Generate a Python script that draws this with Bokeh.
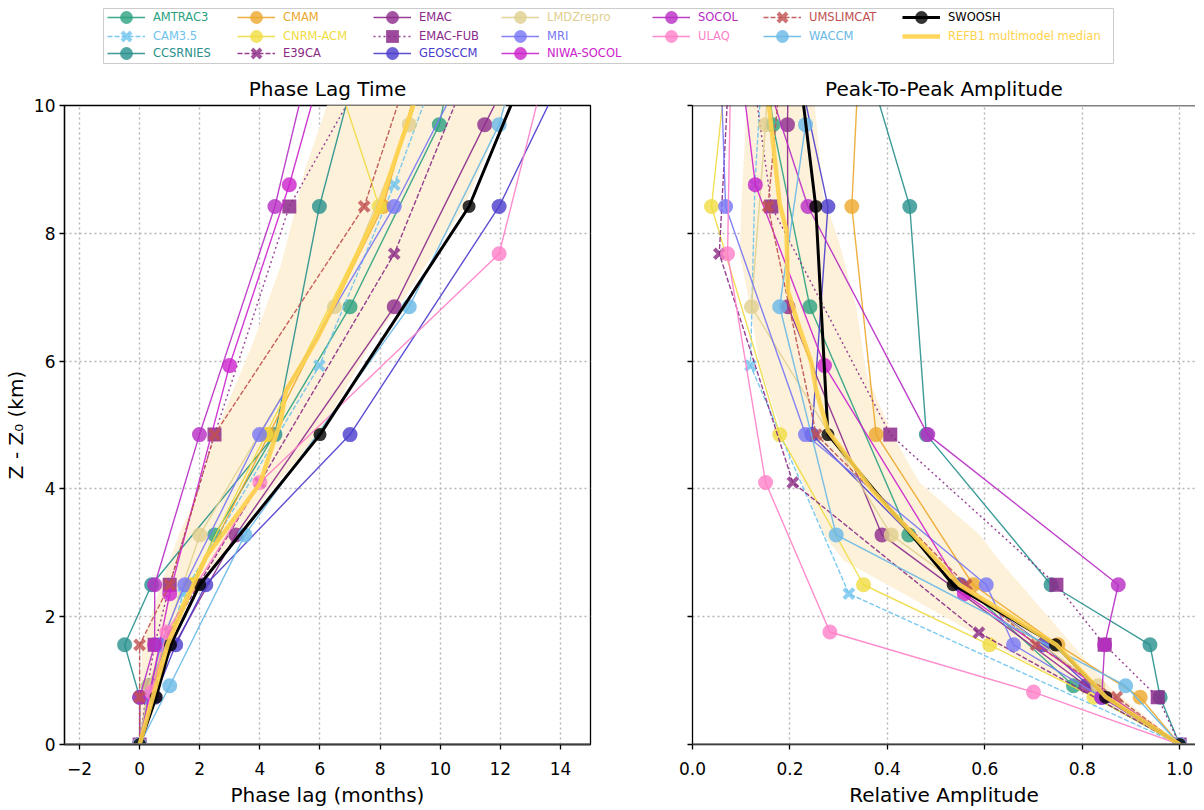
from bokeh.plotting import figure
from bokeh.models import Range1d, Legend, LegendItem, FixedTicker, PrintfTickFormatter, Span
from bokeh.layouts import column, row
from bokeh.embed import file_html
from bokeh.resources import INLINE

FONT = "DejaVu Sans"

# ---------------- data ----------------
# model vertical levels, Z - Z0 in km
Z_LEV_A = [0.0, 2.36, 5.93, 8.76, 11.5]
Z_LEV_B = [0.0, 0.74, 1.56, 2.50, 4.85, 8.42, 11.27]
Z_LEV_C = [0.0, 0.92, 3.28, 6.85, 9.70, 12.5]
Z_LEV_D = [0.0, 0.82, 1.76, 4.10, 7.68, 11.3]
Z_LEV_E = [0.0, 1.75, 4.10, 7.68, 11.3]

AMTRAC3_z = Z_LEV_C
AMTRAC3_lag = [0, 0.3, 2.5, 7.0, 9.97, 11.2]
AMTRAC3_amp = [1, 0.782, 0.444, 0.241, 0.165, 0.13]

CAM35_z = Z_LEV_A
CAM35_lag = [0, 1.45, 5.98, 8.47, 10.6]
CAM35_amp = [1, 0.321, 0.119, 0.128, 0.15]

CCSRNIES_z = Z_LEV_B
CCSRNIES_lag = [0, 0.0, -0.5, 0.4, 4.5, 5.98, 7.58]
CCSRNIES_amp = [1, 0.96, 0.939, 0.736, 0.48, 0.446, 0.335]

CMAM_z = Z_LEV_B
CMAM_lag = [0, 0.3, 0.9, 1.8, 4.3, 8.1, 9.8]
CMAM_amp = [1, 0.919, 0.75, 0.576, 0.377, 0.327, 0.345]

CNRM_z = Z_LEV_B
CNRM_lag = [0, 0.3, 0.8, 1.7, 4.2, 7.97, 5.98]
CNRM_amp = [1, 0.824, 0.61, 0.351, 0.179, 0.039, 0.079]

E39CA_z = Z_LEV_E
E39CA_lag = [0, 1.0, 4.0, 8.47, 11.6]
E39CA_amp = [1, 0.588, 0.206, 0.055, 0.08]

EMAC_z = Z_LEV_C
EMAC_lag = [0, 0.4, 3.2, 8.47, 11.48, 14.5]
EMAC_amp = [1, 0.808, 0.389, 0.196, 0.195, 0.2]

EMACFUB_z = Z_LEV_B
EMACFUB_lag = [0, 0.2, 0.5, 1.0, 2.49, 4.98, 8.4]
EMACFUB_amp = [1, 0.955, 0.846, 0.747, 0.406, 0.162, 0.11]

GEOSCCM_z = Z_LEV_B
GEOSCCM_lag = [0, 0.5, 1.2, 2.2, 7.0, 11.96, 14.9]
GEOSCCM_amp = [1, 0.84, 0.72, 0.55, 0.245, 0.278, 0.198]

LMDZ_z = Z_LEV_C
LMDZ_lag = [0, 0.3, 2.0, 6.48, 8.97, 10.5]
LMDZ_amp = [1, 0.832, 0.408, 0.121, 0.150, 0.17]

MRI_z = Z_LEV_B
MRI_lag = [0, 0.3, 0.7, 1.5, 3.99, 8.47, 11.6]
MRI_amp = [1, 0.84, 0.659, 0.603, 0.232, 0.068, 0.055]

NIWA_z = Z_LEV_A
NIWA_lag = [0, 1.0, 2.99, 4.98, 6.6]
NIWA_amp = [1, 0.558, 0.271, 0.129, 0.085]

SOCOL_z = Z_LEV_B
SOCOL_lag = [0, 0.0, 0.5, 0.5, 1.99, 4.5, 5.95]
SOCOL_amp = [1, 0.84, 0.846, 0.874, 0.483, 0.237, 0.115]

ULAQ_z = Z_LEV_D
ULAQ_lag = [0, 0.4, 0.9, 4.0, 11.96, 13.9]
ULAQ_amp = [1, 0.70, 0.282, 0.15, 0.072, 0.08]

UMSLIMCAT_z = Z_LEV_B
UMSLIMCAT_lag = [0, 0.0, 0.0, 1.0, 2.49, 7.47, 9.47]
UMSLIMCAT_amp = [1, 0.871, 0.705, 0.562, 0.254, 0.155, 0.19]

WACCM_z = Z_LEV_C
WACCM_lag = [0, 1.0, 3.5, 8.97, 11.96, 13.6]
WACCM_amp = [1, 0.889, 0.295, 0.179, 0.232, 0.2]

SWOOSH_z = Z_LEV_B
SWOOSH_lag = [0, 0.55, 1.03, 2.0, 6.0, 10.96, 13.47]
SWOOSH_amp = [1, 0.848, 0.745, 0.535, 0.278, 0.253, 0.208]

MEDIAN_LAG_Z = [0, 0.74, 1.58, 2.36, 2.93, 4.08, 5.07, 5.54, 6.32, 6.84, 8.41, 9.97, 11.0]
MEDIAN_LAG = [0, 0.44, 0.94, 1.66, 2.2, 4.0, 4.7, 4.87, 5.87, 6.42, 7.97, 9.08, 9.8]
MEDIAN_AMP_Z = [0, 0.74, 1.56, 2.5, 3.97, 4.91, 5.54, 5.98, 6.58, 7.1, 8.04, 8.46, 10.5]
MEDIAN_AMP = [1.0, 0.849, 0.747, 0.548, 0.37, 0.278, 0.254, 0.244, 0.217, 0.196, 0.193, 0.179, 0.15]

LAG_BAND_LO_Z = [0, 0.74, 1.56, 2.5, 3.28, 4.0, 4.85, 6.32, 7.5, 8.41, 9.0, 10.5]
LAG_BAND_LO = [0, 0.0, 0.1, 0.7, 1.3, 2.0, 2.5, 3.8, 4.7, 5.2, 5.5, 6.6]
LAG_BAND_HI_Z = [0, 0.74, 1.56, 2.5, 2.93, 4.0, 4.85, 6.32, 6.84, 8.41, 9.3, 10.5]
LAG_BAND_HI = [0, 0.5, 0.95, 1.9, 2.7, 4.4, 6.0, 7.75, 8.6, 10.8, 11.6, 12.6]

AMP_BAND_LO_Z = [0, 0.74, 1.56, 2.5, 2.88, 3.28, 4.85, 5.93, 6.86, 7.68, 8.42, 10.5]
AMP_BAND_LO = [1.0, 0.82, 0.62, 0.40, 0.31, 0.27, 0.185, 0.138, 0.118, 0.097, 0.10, 0.115]
AMP_BAND_HI_Z = [0, 0.9, 1.56, 2.88, 3.28, 4.1, 4.85, 5.8, 6.85, 7.89, 8.6, 10.5]
AMP_BAND_HI = [1.0, 0.856, 0.78, 0.63, 0.59, 0.466, 0.41, 0.357, 0.336, 0.30, 0.268, 0.245]

LAG_TICKS = [-2, 0, 2, 4, 6, 8, 10, 12, 14]
AMP_TICKS = [0.0, 0.2, 0.4, 0.6, 0.8, 1.0]
Z_TICKS = [0, 2, 4, 6, 8, 10]

# ---------------- styles ----------------
MODELS = [
    ("AMTRAC3", AMTRAC3_z, AMTRAC3_lag, AMTRAC3_amp, "#2aa17f", "solid", "circle"),
    ("CAM3.5", CAM35_z, CAM35_lag, CAM35_amp, "#6ec3ee", "dashed", "x"),
    ("CCSRNIES", CCSRNIES_z, CCSRNIES_lag, CCSRNIES_amp, "#27908c", "solid", "circle"),
    ("CMAM", CMAM_z, CMAM_lag, CMAM_amp, "#eca72c", "solid", "circle"),
    ("CNRM-ACM", CNRM_z, CNRM_lag, CNRM_amp, "#f0dc40", "solid", "circle"),
    ("E39CA", E39CA_z, E39CA_lag, E39CA_amp, "#8b2a85", "dashed", "x"),
    ("EMAC", EMAC_z, EMAC_lag, EMAC_amp, "#8c2a8c", "solid", "circle"),
    ("EMAC-FUB", EMACFUB_z, EMACFUB_lag, EMACFUB_amp, "#8c2a8c", "dotted", "square"),
    ("GEOSCCM", GEOSCCM_z, GEOSCCM_lag, GEOSCCM_amp, "#4a3ccc", "solid", "circle"),
    ("LMDZrepro", LMDZ_z, LMDZ_lag, LMDZ_amp, "#e0d08f", "solid", "circle"),
    ("MRI", MRI_z, MRI_lag, MRI_amp, "#7676f5", "solid", "circle"),
    ("NIWA-SOCOL", NIWA_z, NIWA_lag, NIWA_amp, "#cc22cc", "solid", "circle"),
    ("SOCOL", SOCOL_z, SOCOL_lag, SOCOL_amp, "#b82cc4", "solid", "circle"),
    ("ULAQ", ULAQ_z, ULAQ_lag, ULAQ_amp, "#ff80c8", "solid", "circle"),
    ("UMSLIMCAT", UMSLIMCAT_z, UMSLIMCAT_lag, UMSLIMCAT_amp, "#c05050", "dashed", "x"),
    ("WACCM", WACCM_z, WACCM_lag, WACCM_amp, "#68b8e6", "solid", "circle"),
]
DASH = {"solid": "solid", "dashed": "5 2", "dotted": "2 3"}
MEDIAN_COLOR = "#ffd24a"
BAND_COLOR = "#fdf1da"


def draw_series(p, x, z, color, dash, marker, lw=1.4, size=None, line_alpha=0.9):
    rs = [p.line(x, z, line_color=color, line_width=lw, line_dash=DASH[dash], line_alpha=line_alpha)]
    if marker == "x":
        rs.append(p.scatter(x, z, marker="x", size=size or 14, line_color=color, line_width=4,
                            line_alpha=0.8))
    elif marker == "square":
        rs.append(p.scatter(x, z, marker="square", size=size or 14, fill_color=color, fill_alpha=0.85,
                            line_color=None))
    else:
        rs.append(p.scatter(x, z, marker="circle", size=size or 15, fill_color=color, fill_alpha=0.8,
                            line_color=None))
    return rs


def make_panel(title, xr, frame_w, mbl, mbr, ticks, show_ylabels):
    p = figure(frame_width=frame_w, frame_height=639, x_range=xr, y_range=Range1d(0, 10),
               output_backend="svg", toolbar_location=None, title=title,
               min_border_left=mbl, min_border_right=mbr, min_border_top=35, min_border_bottom=10)
    p.title.text_font = FONT
    p.title.text_font_size = "20px"
    p.title.text_font_style = "normal"
    p.title.align = "center"
    p.title.text_color = "black"
    for ax in [p.xaxis[0], p.yaxis[0]]:
        ax.axis_line_width = 1.3
        ax.axis_line_color = "black"
        ax.major_tick_line_width = 1.3
        ax.major_tick_line_color = "black"
        ax.major_tick_out = 5
        ax.major_tick_in = 0
        ax.minor_tick_line_color = None
        ax.major_label_text_font = FONT
        ax.major_label_text_font_size = "17px"
        ax.major_label_text_color = "black"
        ax.axis_label_text_font = FONT
        ax.axis_label_text_font_size = "20px"
        ax.axis_label_text_font_style = "normal"
        ax.axis_label_text_color = "black"
    p.xaxis.ticker = FixedTicker(ticks=ticks)
    p.yaxis.ticker = FixedTicker(ticks=Z_TICKS)
    p.xaxis.major_label_standoff = 12
    p.xaxis.axis_label_standoff = 5
    if show_ylabels:
        p.yaxis.axis_label = "Z - Z\u2080 (km)"
        p.yaxis.major_label_standoff = 4
        p.yaxis.axis_label_standoff = 3
    else:
        p.yaxis.major_label_overrides = {t: "" for t in Z_TICKS}
    for g in [p.xgrid[0], p.ygrid[0]]:
        g.grid_line_color = "#b4b4b4"
        g.grid_line_dash = "2 3"
        g.grid_line_width = 1.4
    p.background_fill_color = "white"
    p.border_fill_color = "white"
    return p


# ---------------- left panel ----------------
p1 = make_panel("Phase Lag Time", Range1d(-2.5, 15), 526, 57, 10, LAG_TICKS, True)
p1.xaxis.axis_label = "Phase lag (months)"
p1.xaxis.major_label_overrides = {-2: "\u22122"}
p1.outline_line_color = "black"
p1.outline_line_width = 1.3
p1.patch(LAG_BAND_LO + LAG_BAND_HI[::-1], LAG_BAND_LO_Z + LAG_BAND_HI_Z[::-1],
         fill_color=BAND_COLOR, line_color=None)

# ---------------- right panel ----------------
p2 = make_panel("Peak-To-Peak Amplitude", Range1d(0, 1.0325), 503, 92, 0, AMP_TICKS, False)
p2.xaxis.axis_label = "Relative Amplitude"
p2.xaxis.formatter = PrintfTickFormatter(format="%.1f")
p2.outline_line_color = None
p2.patch(AMP_BAND_LO + AMP_BAND_HI[::-1], AMP_BAND_LO_Z + AMP_BAND_HI_Z[::-1],
         fill_color=BAND_COLOR, line_color=None)
p2.add_layout(Span(location=10, dimension="width", line_color="black", line_width=1.5))

for name, z, lag, amp, color, dash, marker in MODELS:
    draw_series(p1, lag, z, color, dash, marker)
    draw_series(p2, amp, z, color, dash, marker)

draw_series(p1, SWOOSH_lag, SWOOSH_z, "black", "solid", "circle", lw=3, size=13, line_alpha=1)
draw_series(p2, SWOOSH_amp, SWOOSH_z, "black", "solid", "circle", lw=3, size=13, line_alpha=1)
p1.line(MEDIAN_LAG, MEDIAN_LAG_Z, line_color=MEDIAN_COLOR, line_width=4.5, line_alpha=0.9)
p2.line(MEDIAN_AMP, MEDIAN_AMP_Z, line_color=MEDIAN_COLOR, line_width=4.5, line_alpha=0.9)

for p in (p1, p2):
    p.add_layout(Span(location=0, dimension="width", line_color="#7a7a7a", line_width=2.5))

# ---------------- legend strip ----------------
LW, LH = 1188, 69
leg = figure(width=LW, height=LH, x_range=Range1d(0, LW), y_range=Range1d(0, LH),
             x_axis_type=None, y_axis_type=None, output_backend="svg", toolbar_location=None,
             min_border=0, outline_line_color=None)
leg.grid.visible = False
leg.quad(left=[103], right=[1113], bottom=[6], top=[61], fill_color="white",
         line_color="#cccccc", line_width=1)

COL_X = [107, 237, 373, 501, 652, 763, 902]
ROW_Y = [36, 17, 0]
OFF = [-1000.0]

entries = [(m[0], m[4], m[5], m[6]) for m in MODELS] + [("SWOOSH", "black", "solid", "circle")]
positions = []
for i in range(len(entries) + 1):
    if i < 12:
        positions.append((i // 3, i % 3))
    else:
        j = i - 12
        positions.append((4 + j // 2, j % 2))


def add_legend(label, renderers, color, pos):
    c, r = pos
    lg = Legend(items=[LegendItem(label=label, renderers=renderers)],
                location=(COL_X[c], ROW_Y[r]), orientation="vertical",
                padding=0, margin=0, spacing=0, glyph_width=38, glyph_height=32,
                label_height=32, label_standoff=8, label_text_font=FONT,
                label_text_font_size="11.5px", label_text_color=color,
                border_line_color=None, background_fill_alpha=0)
    leg.add_layout(lg)


for i, (name, color, dash, marker) in enumerate(entries):
    if name == "SWOOSH":
        rs = draw_series(leg, OFF, OFF, "black", "solid", "circle", lw=3, size=13, line_alpha=1)
    else:
        rs = draw_series(leg, OFF, OFF, color, dash, marker)
    add_legend(name, rs, color, positions[i])

med_r = leg.line(OFF, OFF, line_color=MEDIAN_COLOR, line_width=4.5, line_alpha=0.9)
add_legend("REFB1 multimodel median", [med_r], MEDIAN_COLOR, positions[len(entries)])

layout = column(leg, row(p1, p2, spacing=0), spacing=0)

with open("out.html", "w") as f:
    f.write(file_html(layout, INLINE, "Tape recorder"))
